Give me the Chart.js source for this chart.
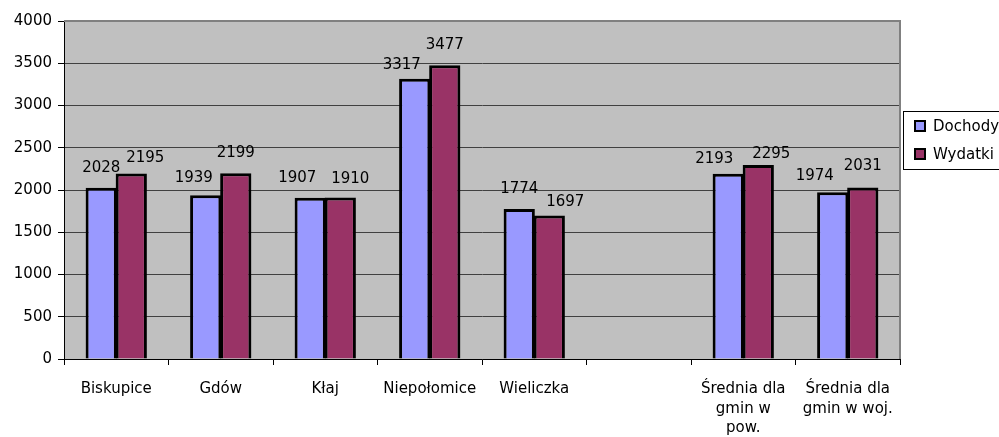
<!DOCTYPE html>
<html>
<head>
<meta charset="utf-8">
<script src="https://cdn.jsdelivr.net/npm/chart.js@4.4.1/dist/chart.umd.min.js"></script>
<style>
  html, body { margin: 0; padding: 0; background: #fff; }
  #wrap { width: 999px; height: 437px; }
</style>
</head>
<body>
<div id="wrap"><canvas id="chart" width="999" height="437"></canvas></div>
<script>
// --- data ---
const categories = [
  'Biskupice', 'Gdów', 'Kłaj', 'Niepołomice', 'Wieliczka', '',
  ['Średnia dla', 'gmin w', 'pow.'], ['Średnia dla', 'gmin w woj.']
];
const dochody = [2028, 1939, 1907, 3317, 1774, null, 2193, 1974];
const wydatki = [2195, 2199, 1910, 3477, 1697, null, 2295, 2031];
const yTicks = [0, 500, 1000, 1500, 2000, 2500, 3000, 3500, 4000];

// label nudges (Excel shifts some labels sideways to avoid overlap)
const labelDx = [
  [0, -12, -13, -13, 0, 0, -14, -18],
  [14, 0, 10, 0, 16, 0, 13, 0]
];
const labelGap = [
  [16, 13, 16, 10, 16, 0, 11, 12],
  [12, 16, 15, 16, 10, 0, 7, 17]
];

Chart.defaults.font.family = '"DejaVu Sans", Verdana, sans-serif';
Chart.defaults.font.size = 15;
Chart.defaults.color = '#000';

// gray plot area + data labels + legend box
const excelLook = {
  id: 'excelLook',
  beforeDraw(chart) {
    const { ctx, chartArea: a } = chart;
    ctx.save();
    ctx.fillStyle = '#fff';
    ctx.fillRect(0, 0, chart.width, chart.height);
    ctx.fillStyle = '#c0c0c0';
    ctx.fillRect(a.left, a.top, a.right - a.left, a.bottom - a.top);
    ctx.restore();
  },
  beforeDatasetsDraw(chart) {
    const { ctx, chartArea: a } = chart;
    ctx.save();
    ctx.strokeStyle = '#808080';
    ctx.lineWidth = 2;
    ctx.beginPath();
    ctx.moveTo(a.left, a.top);
    ctx.lineTo(a.right, a.top);
    ctx.lineTo(a.right, a.bottom);
    ctx.stroke();
    ctx.restore();
  },
  afterDatasetsDraw(chart) {
    const { ctx } = chart;
    ctx.save();
    ctx.font = '15px "DejaVu Sans", Verdana, sans-serif';
    ctx.fillStyle = '#000';
    ctx.textAlign = 'center';
    ctx.textBaseline = 'alphabetic';
    chart.data.datasets.forEach((ds, di) => {
      chart.getDatasetMeta(di).data.forEach((bar, i) => {
        const v = ds.data[i];
        if (v == null) return;
        ctx.fillText(String(v), bar.x + labelDx[di][i], bar.y - labelGap[di][i]);
      });
    });

    // legend
    const lx = 903, ly = 111;
    ctx.strokeStyle = '#000';
    ctx.lineWidth = 1;
    ctx.strokeRect(lx + 0.5, ly + 0.5, 120, 58);
    ctx.textAlign = 'left';
    ctx.textBaseline = 'middle';
    chart.data.datasets.forEach((ds, di) => {
      const y = ly + 15 + di * 28;
      ctx.fillStyle = ds.backgroundColor;
      ctx.fillRect(lx + 12, y - 5, 10, 10);
      ctx.lineWidth = 2;
      ctx.strokeRect(lx + 12, y - 5, 10, 10);
      ctx.fillStyle = '#000';
      ctx.fillText(ds.label, lx + 30, y + 1);
    });
    ctx.restore();
  }
};

new Chart(document.getElementById('chart'), {
  type: 'bar',
  data: {
    labels: categories,
    datasets: [
      { label: 'Dochody', data: dochody, backgroundColor: '#9999ff', borderColor: '#000', borderWidth: 3 },
      { label: 'Wydatki', data: wydatki, backgroundColor: '#993366', borderColor: '#000', borderWidth: 3 }
    ]
  },
  options: {
    responsive: false,
    animation: false,
    layout: { padding: { top: 21, right: 99, left: 0, bottom: 0 } },
    plugins: { legend: { display: false }, tooltip: { enabled: false } },
    datasets: { bar: { categoryPercentage: 0.575, barPercentage: 1.04, borderSkipped: 'bottom' } },
    scales: {
      x: {
        grid: { offset: true, drawOnChartArea: false, tickLength: 6, color: '#000' },
        border: { color: '#000', width: 1 },
        ticks: { padding: 15, maxRotation: 0, autoSkip: false, font: { size: 15, lineHeight: 1.28 } },
        afterFit(scale) { scale.height = 78; }
      },
      y: {
        min: 0,
        max: 4000,
        afterBuildTicks(scale) { scale.ticks = yTicks.map(v => ({ value: v })); },
        grid: { color: '#404040', tickColor: '#000', tickLength: 6 },
        border: { color: '#000', width: 1 },
        ticks: { padding: 6, callback: v => String(v) },
        afterFit(scale) { scale.width = 64; }
      }
    }
  },
  plugins: [excelLook]
});
</script>
</body>
</html>
